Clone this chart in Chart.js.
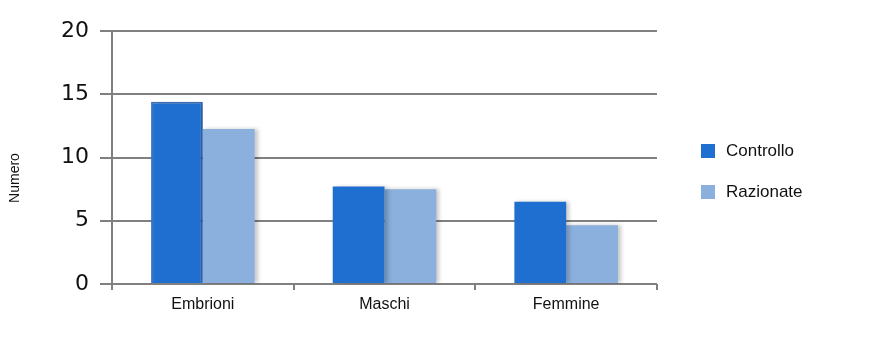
<!DOCTYPE html>
<html>
<head>
<meta charset="utf-8">
<script src="https://cdn.jsdelivr.net/npm/chart.js@4.4.0/dist/chart.umd.min.js"></script>
<style>
  html, body { margin: 0; padding: 0; background: #fff; }
  #wrap { width: 896px; height: 341px; position: relative; }
</style>
</head>
<body>
<div id="wrap"><canvas id="myChart" width="896" height="341"></canvas></div>
<script>
// Data
const categories = ['Embrioni', 'Maschi', 'Femmine'];
const controllo = [14.4, 7.7, 6.5];
const razionate = [12.25, 7.5, 4.65];
const yTicks = [0, 5, 10, 15, 20];

const gridColor = '#808080';
const labelFont = '"Liberation Sans", Arial, sans-serif';

// soft shadow on the right of the bars
const barShadow = {
    id: 'barShadow',
    beforeDatasetsDraw(chart) {
        const c = chart.ctx;
        c.save();
        c.shadowColor = 'rgba(0,0,0,0.22)';
        c.shadowOffsetX = 3;
        c.shadowOffsetY = 0;
        c.shadowBlur = 4;
    },
    afterDatasetsDraw(chart) {
        chart.ctx.restore();
    }
};

// y axis title + legend on the right, placed like the original
const extras = {
    id: 'extras',
    afterDraw(chart) {
        const c = chart.ctx;
        c.save();
        c.translate(15, 178);
        c.rotate(-Math.PI / 2);
        c.font = '14px ' + labelFont;
        c.fillStyle = '#111';
        c.textAlign = 'center';
        c.textBaseline = 'middle';
        c.fillText('Numero', 0, 0);
        c.restore();

        c.save();
        c.font = '17px ' + labelFont;
        c.textBaseline = 'middle';
        chart.data.datasets.forEach((ds, i) => {
            const y = 144 + i * 41;
            c.fillStyle = ds.backgroundColor;
            c.fillRect(701, y, 14, 14);
            c.fillStyle = '#111';
            c.fillText(ds.label, 726, y + 7);
        });
        c.restore();
    }
};

var ctx = document.getElementById('myChart').getContext('2d');
var myChart = new Chart(ctx, {
    type: 'bar',
    data: {
        labels: categories,
        datasets: [
            {
                label: 'Controllo',
                data: controllo,
                backgroundColor: '#1E6FD0',
                borderColor: '#3F74C2',
                borderWidth: [2, 0, 0],
                categoryPercentage: 0.57,
                barPercentage: 1.0
            },
            {
                label: 'Razionate',
                data: razionate,
                backgroundColor: '#8BB0DE',
                borderWidth: 0,
                categoryPercentage: 0.57,
                barPercentage: 1.0
            }
        ]
    },
    options: {
        responsive: false,
        animation: false,
        devicePixelRatio: 1,
        layout: {
            padding: { left: 40, top: 31, right: 239, bottom: 20 }
        },
        plugins: {
            tooltip: { enabled: false },
            legend: { display: false }
        },
        scales: {
            x: {
                afterFit(axis) { axis.height = 37; },
                grid: {
                    offset: true,
                    drawOnChartArea: false,
                    drawTicks: true,
                    tickLength: 6,
                    color: gridColor,
                    lineWidth: 2
                },
                border: { display: false },
                ticks: {
                    color: '#111',
                    padding: 5,
                    font: { family: labelFont, size: 16 }
                }
            },
            y: {
                min: 0,
                max: 20,
                afterFit(axis) { axis.width = 72; },
                afterBuildTicks(axis) {
                    axis.ticks = yTicks.map(v => ({ value: v }));
                },
                grid: {
                    color: gridColor,
                    lineWidth: 2,
                    tickLength: 12
                },
                border: { display: true, color: gridColor, width: 2 },
                ticks: {
                    color: '#111',
                    padding: 11,
                    font: { family: '"DejaVu Sans", sans-serif', size: 22 }
                }
            }
        }
    },
    plugins: [barShadow, extras]
});
</script>
</body>
</html>
